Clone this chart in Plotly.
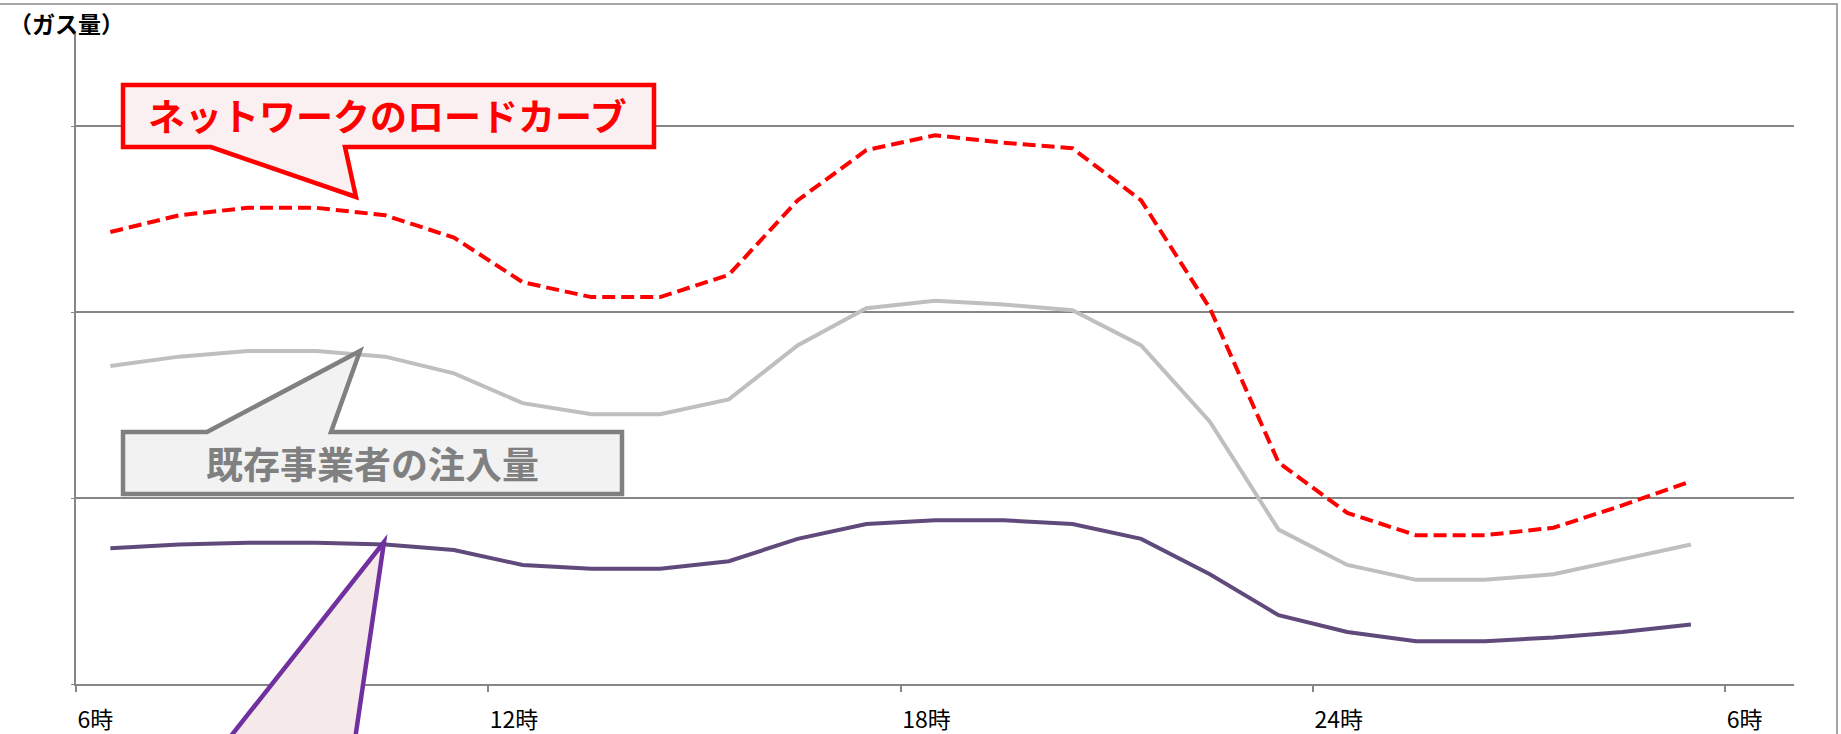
import plotly.graph_objects as go

# ---------------- data ----------------
hours = list(range(6, 30))  # 6時 .. 翌5時 (24 hourly points)
network_load = [2.43, 2.52, 2.56, 2.56, 2.52, 2.40, 2.16, 2.08, 2.08, 2.20, 2.60, 2.87,
                2.95, 2.91, 2.88, 2.60, 2.02, 1.19, 0.92, 0.80, 0.80, 0.84, 0.96, 1.09]
existing_injection = [1.71, 1.76, 1.79, 1.79, 1.76, 1.67, 1.51, 1.45, 1.45, 1.53, 1.82, 2.02,
                      2.06, 2.04, 2.01, 1.82, 1.41, 0.83, 0.64, 0.56, 0.56, 0.59, 0.67, 0.75]
new_injection = [0.73, 0.75, 0.76, 0.76, 0.75, 0.72, 0.64, 0.62, 0.62, 0.66, 0.78, 0.86,
                 0.88, 0.88, 0.86, 0.78, 0.59, 0.37, 0.28, 0.23, 0.23, 0.25, 0.28, 0.32]
tick_vals = [0, 6, 12, 18, 24]
tick_text = ["6時", "12時", "18時", "24時", "6時"]
y_axis_title = "（ガス量）"
label_network = "ネットワークのロードカーブ"
label_existing = "既存事業者の注入量"

# category positions (each hour occupies one slot, points centred in slot)
xpos = [h - hours[0] + 0.5 for h in hours]

W, H = 1841, 734
L, R, T, B = 76, 1794, 33, 684


def px(x):
    return (x - L) / (R - L)


def py(y):
    return (B - y) / (B - T)


def path(points, close=True):
    s = "M " + " L ".join(f"{px(x):.5f},{py(y):.5f}" for x, y in points)
    return s + (" Z" if close else "")


fig = go.Figure()
fig.add_trace(go.Scatter(x=xpos, y=new_injection, mode="lines",
                         line=dict(color="#604A7B", width=4), showlegend=False))
fig.add_trace(go.Scatter(x=xpos, y=existing_injection, mode="lines",
                         line=dict(color="#BFBFBF", width=4), showlegend=False))
fig.add_trace(go.Scatter(x=xpos, y=network_load, mode="lines",
                         line=dict(color="#FF0000", width=4, dash="13px,6px"), showlegend=False))

shapes = []
# outer chart border
shapes.append(dict(type="path", xref="paper", yref="paper",
                   path=path([(-5, 4), (1837, 4), (1837, 760)], close=False),
                   line=dict(color="#A6A6A6", width=2), layer="below"))
# red callout
shapes.append(dict(type="path", xref="paper", yref="paper",
                   path=path([(123, 85), (654, 85), (654, 147), (345, 147), (356, 197),
                              (211, 147), (123, 147)]),
                   fillcolor="#FAF0F1", line=dict(color="#FF0000", width=4.5), layer="above"))
# gray callout
shapes.append(dict(type="path", xref="paper", yref="paper",
                   path=path([(123, 432), (207, 432), (360, 351), (331, 432), (622, 432),
                              (622, 494), (123, 494)]),
                   fillcolor="#F2F2F2", line=dict(color="#808080", width=4.5), layer="above"))
# purple callout (box below visible area)
shapes.append(dict(type="path", xref="paper", yref="paper",
                   path=path([(212, 760), (384, 542), (352, 760)]),
                   fillcolor="#F6E9E9", line=dict(color="#7030A0", width=4.5), layer="above"))

annotations = [
    dict(text=f"<b>{y_axis_title}</b>", xref="paper", yref="paper", x=px(7), y=py(23),
         xanchor="left", yanchor="middle", showarrow=False,
         font=dict(size=23, color="#000000", family="Noto Sans CJK JP")),
    dict(text=f"<b>{label_network}</b>", xref="paper", yref="paper", x=px(387), y=py(115),
         xanchor="center", yanchor="middle", showarrow=False,
         font=dict(size=37, color="#FF0000", family="Noto Sans CJK JP")),
    dict(text=f"<b>{label_existing}</b>", xref="paper", yref="paper", x=px(372), y=py(463),
         xanchor="center", yanchor="middle", showarrow=False,
         font=dict(size=37, color="#808080", family="Noto Sans CJK JP")),
]

fig.update_layout(
    width=W, height=H,
    margin=dict(l=L, r=W - R, t=T, b=H - B, autoexpand=False),
    paper_bgcolor="white", plot_bgcolor="white",
    shapes=shapes, annotations=annotations,
    font=dict(family="Noto Sans CJK JP", color="#000000"),
    xaxis=dict(range=[0, 25], tickvals=tick_vals, ticktext=tick_text, automargin=False,
               ticks="outside", ticklen=6, tickcolor="#868686", tickwidth=1.5,
               ticklabelposition="outside right", ticklabelstandoff=15,
               showline=True, linecolor="#868686", linewidth=1.5,
               showgrid=False, zeroline=False,
               tickfont=dict(size=23, family="Noto Sans CJK JP", color="#000000")),
    yaxis=dict(range=[0, 3.5], tickvals=[0, 1, 2, 3], showticklabels=False, automargin=False,
               ticks="outside", ticklen=3, tickcolor="#868686",
               showline=True, linecolor="#868686", linewidth=1.5,
               showgrid=True, gridcolor="#868686", gridwidth=1.5, zeroline=False),
)

fig.write_html("out.html", config={"displayModeBar": False},
               post_script="document.body.style.margin='0';document.body.style.overflow='hidden';")
